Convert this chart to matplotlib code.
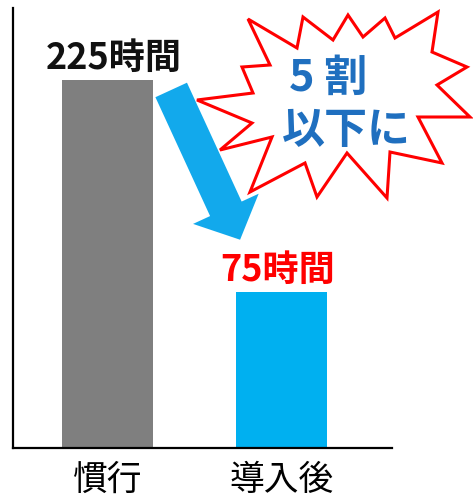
import matplotlib
matplotlib.use("Agg")
import matplotlib.pyplot as plt
from matplotlib.patches import Polygon, FancyArrowPatch
import numpy as np

plt.rcParams['font.family'] = ['Noto Sans CJK JP', 'DejaVu Sans']

categories = ["慣行", "導入後"]
hours = [225, 75]
bar_colors = ["#7f7f7f", "#00b0f0"]
value_colors = ["#111111", "#ff0000"]
burst_text = ["5 割", "以下に"]

W, H = 473, 497
fig = plt.figure(figsize=(W / 100, H / 100), dpi=100, facecolor="white")
ax = fig.add_axes([13 / W, 1 - 448 / H, (392 - 13) / W, (448 - 8) / H])

# the value axis floor sits below zero; bars rise from the floor to their value
floor = -35.4
x = np.arange(len(categories))
ax.bar(x, np.array(hours) - floor, bottom=floor, width=0.52, color=bar_colors, zorder=2)
ax.set_xlim(-0.54, 1.633)
ax.set_ylim(floor, 276)

ax.set_xticks(x)
ax.set_xticklabels(categories, fontsize=25)
ax.tick_params(axis="x", length=0, pad=11)
ax.set_yticks([])
for s in ("top", "right"):
    ax.spines[s].set_visible(False)
for s in ("left", "bottom"):
    ax.spines[s].set_linewidth(1.6)
    ax.spines[s].set_color("black")

# value labels above the bars
for xi, h, c, dx in zip(x, hours, value_colors, [0.04, -0.02]):
    ax.annotate(f"{h}時間", (xi + dx, h), xytext=(0, 8), textcoords="offset points",
                ha="center", va="baseline", fontsize=26, fontweight="bold", color=c)

# starburst callout (figure pixel coords, y down)
burst = np.array([
    (248, 19), (297, 48), (303, 17), (333, 40), (348, 15), (363, 37), (385, 18),
    (395, 38), (438, 12), (432, 52), (467, 67), (437, 85), (470, 117), (418, 117),
    (442, 163), (390, 152), (387, 198), (347, 153), (317, 197), (305, 163),
    (250, 192), (272, 137), (220, 150), (252, 123), (197, 100), (253, 93),
    (242, 67), (270, 65),
], dtype=float)
burst_fig = np.column_stack([burst[:, 0] / W, 1 - burst[:, 1] / H])
ax.add_patch(Polygon(burst_fig, closed=True, facecolor="white", edgecolor="#ff0000",
                     linewidth=2.2, transform=fig.transFigure, clip_on=False, zorder=3))
fig.text(328 / W, 1 - 78 / H, burst_text[0], ha="center", va="center", fontsize=31,
         fontweight="bold", color="#1f6fbf", zorder=5)
fig.text(346 / W, 1 - 130 / H, burst_text[1], ha="center", va="center", fontsize=31,
         fontweight="bold", color="#1f6fbf", zorder=5)

# downward arrow from the first bar towards the second
arrow = FancyArrowPatch((0.367, 218), (0.762, 112),
                        arrowstyle="simple,head_length=24.5,head_width=52,tail_width=25",
                        mutation_scale=1, shrinkA=0, shrinkB=0,
                        color="#12a9ec", linewidth=0, zorder=4, clip_on=False)
ax.add_patch(arrow)

fig.savefig("out.png", dpi=100, facecolor="white")
